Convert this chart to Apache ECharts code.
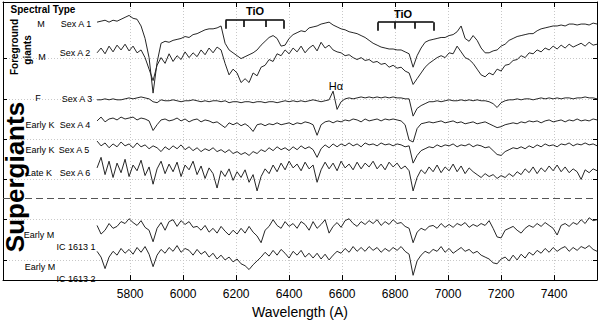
<!DOCTYPE html>
<html>
<head>
<meta charset="utf-8">
<script src="https://cdn.jsdelivr.net/npm/echarts@6/dist/echarts.min.js"></script>
<style>
html, body { margin: 0; padding: 0; background: #fff; }
#chart { width: 600px; height: 324px; }
</style>
</head>
<body>
<div id="chart"></div>
<script>
const LAM_START = 5675;
const LAM_STEP = 15.1;

// offset level of each trace (inverted scale, top of frame = 2)
const sexA1 = [
  23,22,21,23,21,22,20,18,16,19,
  20,27,40,60,97,65,45,43,44,42,
  41,40,38,39,36,35,33,31,30,30,
  29,27,45,52,55,58,61,59,57,55,
  52,47,43,39,37,40,48,47,40,36,
  34,32,33,29,28,27,25,24,23,26,
  28,30,31,33,34,35,37,39,42,45,
  47,49,50,51,51,52,52,54,56,70,
  58,50,44,42,41,40,39,39,37,36,
  33,27,40,43,37,42,50,55,55,53,
  52,48,46,42,40,38,37,36,35,35,
  32,30,29,28,27,27,26,27,25,25,
  26,25,25,26,24,25];
const sexA2 = [
  55,50,56,48,54,47,52,46,53,48,
  55,52,60,72,84,68,60,66,56,64,
  58,62,54,60,55,59,52,57,50,55,
  49,52,66,78,72,76,86,82,86,76,
  79,70,68,62,64,56,58,52,56,50,
  54,48,55,50,47,53,44,50,47,52,
  54,55,58,57,60,62,60,63,62,65,
  64,67,66,70,68,71,70,74,76,88,
  82,76,70,66,63,60,58,60,55,56,
  48,54,60,62,66,72,78,80,76,78,
  72,74,68,67,63,62,58,60,55,56,
  52,54,50,52,48,51,47,50,46,49,
  47,45,48,44,47,46];
const sexA3 = [
  104,104,103,104,103,104,104,103,102,103,
  102,101,102,103,106,107,104,105,105,104,
  105,106,105,105,104,105,106,105,106,105,
  105,106,105,107,106,106,107,106,106,107,
  106,106,107,106,106,107,106,105,106,105,
  106,105,106,105,104,105,106,105,104,95,
  114,106,103,102,103,102,101,102,101,102,
  101,102,101,102,101,102,102,103,103,121,
  113,110,108,106,106,105,106,105,104,105,
  105,104,105,104,105,104,105,105,106,108,
  112,107,105,104,104,103,104,103,103,104,
  103,102,103,102,103,102,103,102,102,103,
  102,102,101,102,102,103];
const sexA4 = [
  126,122,127,124,123,125,122,124,123,122,
  125,123,124,126,136,130,125,124,126,125,
  123,126,124,127,125,124,127,125,126,128,
  127,130,133,128,130,128,131,129,132,137,
  130,129,131,129,130,128,130,129,128,130,
  128,129,127,128,130,141,130,127,126,128,
  126,127,125,126,124,125,127,124,126,125,
  124,126,124,125,124,125,126,130,146,148,
  134,129,128,127,128,127,126,128,127,126,
  128,127,129,128,127,129,128,127,129,131,
  133,132,130,129,128,129,127,128,126,127,
  126,128,126,125,127,126,125,127,125,126,
  124,126,125,126,124,125];
const sexA5 = [
  147,152,149,154,150,153,148,152,150,154,
  149,153,151,155,152,154,158,153,156,152,
  155,151,156,153,157,154,158,155,157,154,
  158,156,159,156,160,158,161,159,162,158,
  160,156,158,154,157,153,156,154,157,153,
  156,152,155,153,156,164,155,151,154,150,
  153,150,152,149,152,150,153,149,151,150,
  152,149,151,150,152,150,151,153,152,170,
  162,157,155,153,154,151,153,151,152,150,
  153,151,152,150,153,151,152,154,153,157,
  161,162,158,156,154,155,153,155,152,154,
  151,153,150,152,151,153,150,151,149,152,
  150,151,149,151,150,152];
const sexA6 = [
  175,164,182,168,185,170,180,166,184,172,
  178,167,183,174,192,176,168,181,171,179,
  169,184,172,177,168,182,173,186,175,181,
  196,178,184,176,188,179,185,177,190,182,
  199,184,176,181,172,179,170,177,168,175,
  171,178,169,176,172,190,177,169,176,170,
  178,168,175,171,177,169,176,170,174,168,
  176,171,177,169,174,170,176,173,178,199,
  185,177,181,174,179,172,180,174,178,171,
  179,173,181,175,179,182,185,181,184,182,
  186,183,185,181,184,179,182,176,180,174,
  181,175,179,173,178,172,179,174,180,176,
  179,187,177,180,176,178];
const ic1613a = [
  235,244,240,233,238,236,231,233,228,232,
  235,230,237,240,252,238,232,240,231,229,
  236,230,234,231,237,236,240,235,242,238,
  243,236,241,245,240,244,238,243,236,242,
  246,253,240,236,229,235,238,231,236,233,
  238,231,234,240,231,238,234,229,243,236,
  232,237,230,228,233,236,231,234,230,233,
  229,235,231,234,229,233,232,236,238,253,
  242,238,240,236,235,238,233,237,234,237,
  233,235,232,237,234,236,233,235,230,238,
  247,248,240,238,236,240,243,238,235,237,
  233,236,232,235,238,245,235,233,236,232,
  234,229,233,227,230,229];
const ic1613b = [
  262,268,280,268,262,266,259,264,260,265,
  258,263,257,265,278,266,260,264,258,262,
  256,263,259,261,266,260,265,262,268,264,
  270,266,271,268,273,270,275,277,281,276,
  272,268,263,267,261,266,260,264,269,262,
  266,261,268,264,269,264,270,265,271,266,
  262,264,259,263,257,262,258,262,257,261,
  258,263,259,262,258,261,257,262,265,287,
  272,266,262,264,260,262,257,263,259,264,
  261,258,262,260,264,262,266,268,270,274,
  275,270,268,272,266,271,265,269,263,266,
  261,264,259,263,258,262,259,257,262,258,
  261,257,259,256,260,262];

const waveTicks = [5800, 6000, 6200, 6400, 6600, 6800, 7000, 7200, 7400];
const levelTicks = [61, 103, 145, 187, 229, 271];
const dividerLevel = 207;
// TiO band brackets: wavelengths of the bracket ends/ticks, level of the bar
const tioA = [6160, 6230, 6310, 6380];
const tioB = [6735, 6800, 6875, 6945];
const tioLevel = [21, 23];

const spectra = [sexA1, sexA2, sexA3, sexA4, sexA5, sexA6, ic1613a, ic1613b];
const lam = sexA1.map((_, i) => LAM_START + i * LAM_STEP);

function bracket(waves, top) {
  const out = [];
  out.push([{ coord: [waves[0], top] }, { coord: [waves[3], top] }]);
  waves.forEach((w, i) => {
    const drop = (i === 0 || i === 3) ? 9 : 7;
    out.push([{ coord: [w, top] }, { coord: [w, top + drop] }]);
  });
  return out;
}

const chart = echarts.init(document.getElementById('chart'), null, { renderer: 'svg' });

const FONT = 'Liberation Sans, Arial, sans-serif';
const frame = { show: true, onZero: false, lineStyle: { color: '#000', width: 1 } };
const grid = { show: true, lineStyle: { color: '#c8c8c8', type: [1, 2], width: 1 } };

const series = spectra.map((arr) => ({
  type: 'line',
  data: arr.map((v, i) => [lam[i], v]),
  showSymbol: false,
  symbol: 'none',
  silent: true,
  lineStyle: { color: '#262626', width: 1 },
  z: 3
}));

series[0].markLine = {
  silent: true,
  symbol: ['none', 'none'],
  label: { show: false },
  lineStyle: { color: '#000', width: 1.6, type: 'solid' },
  data: bracket(tioA, tioLevel[0]).concat(bracket(tioB, tioLevel[1]))
};
series[7].markLine = {
  silent: true,
  symbol: ['none', 'none'],
  label: { show: false },
  lineStyle: { color: '#555', width: 1, type: [7, 4] },
  data: [{ yAxis: dividerLevel }]
};

function label(text, x, y, size, bold, rot) {
  return {
    type: 'text', x: x, y: y, rotation: rot || 0, z: 10,
    style: {
      text: text, fill: '#000', align: 'center', verticalAlign: 'middle',
      font: (bold ? 'bold ' : '') + size + 'px ' + FONT
    }
  };
}

chart.setOption({
  animation: false,
  grid: { left: 3, right: 3, top: 2, bottom: 32 },
  xAxis: [{
    type: 'value', min: 5320, max: 7562, position: 'bottom',
    axisLine: frame,
    axisTick: { inside: true, length: 5, customValues: waveTicks, lineStyle: { color: '#000' } },
    axisLabel: {
      customValues: waveTicks, color: '#000', fontSize: 12, fontFamily: FONT, margin: 8,
      formatter: (v) => String(v)
    },
    splitLine: grid,
    name: 'Wavelength (A)', nameLocation: 'middle', nameGap: 23,
    nameTextStyle: { color: '#000', fontSize: 14, fontFamily: FONT }
  }, {
    type: 'value', min: 5320, max: 7562, position: 'top',
    axisLine: frame,
    axisTick: { inside: true, length: 5, customValues: waveTicks, lineStyle: { color: '#000' } },
    axisLabel: { show: false },
    splitLine: { show: false }
  }],
  yAxis: [{
    type: 'value', min: 2, max: 292, inverse: true, position: 'left',
    axisLine: frame,
    axisTick: { inside: true, length: 4, customValues: levelTicks, lineStyle: { color: '#000' } },
    axisLabel: { show: false },
    splitLine: grid
  }, {
    type: 'value', min: 2, max: 292, inverse: true, position: 'right',
    axisLine: frame,
    axisTick: { inside: true, length: 4, customValues: levelTicks, lineStyle: { color: '#000' } },
    axisLabel: { show: false },
    splitLine: { show: false }
  }],
  series: series,
  graphic: [
    label('Spectral Type', 43, 9, 10, true),
    label('Foreground', 14, 47, 10, true, Math.PI / 2),
    label('giants', 27, 50, 10, true, Math.PI / 2),
    label('Supergiants', 15, 177, 26, true, Math.PI / 2),
    label('M', 41, 24, 9), label('Sex A 1', 76, 24, 9),
    label('M', 42, 57, 9), label('Sex A 2', 75, 53, 9),
    label('F', 38, 98, 9), label('Sex A 3', 77, 99, 9),
    label('Early K', 40, 125, 9), label('Sex A 4', 75, 125, 9),
    label('Early K', 40, 150, 9), label('Sex A 5', 74, 150, 9),
    label('Late K', 39, 173, 9), label('Sex A 6', 75, 173, 9),
    label('Early M', 39, 235, 9), label('IC 1613 1', 76, 247, 9),
    label('Early M', 40, 267, 9), label('IC 1613 2', 76, 279, 9),
    label('TiO', 255, 11, 11, true),
    label('TiO', 403, 14, 11, true),
    label('H\u03b1', 336, 86, 11)
  ]
});
</script>
</body>
</html>
